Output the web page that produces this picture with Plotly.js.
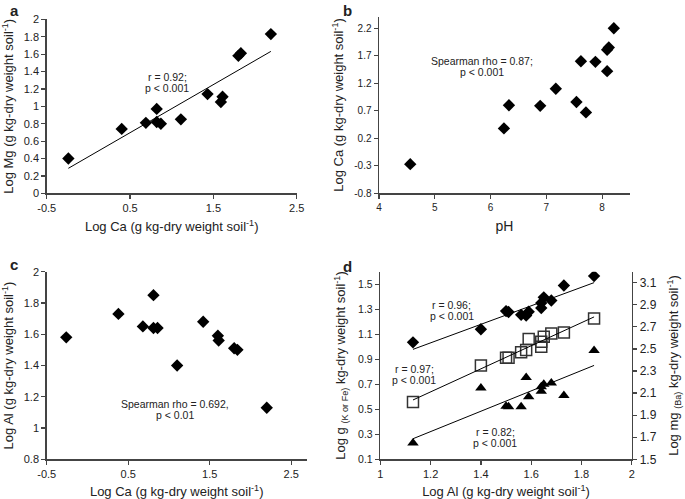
<!DOCTYPE html>
<html><head><meta charset="utf-8">
<script src="https://cdn.plot.ly/plotly-3.0.1.min.js"></script>
<style>html,body{margin:0;padding:0;background:#fff}#chart{width:685px;height:499px}</style>
</head><body><div id="chart"></div>
<script>
// ---- Panel a: Log Ca vs Log Mg ----
const caA = [-0.24, 0.40, 0.69, 0.82, 0.82, 0.87, 1.11, 1.43, 1.59, 1.61, 1.80, 1.83, 2.19];
const mgA = [0.40, 0.74, 0.81, 0.97, 0.82, 0.80, 0.85, 1.14, 1.05, 1.11, 1.58, 1.61, 1.83];
// ---- Panel b: pH vs Log Ca ----
const phB = [4.56, 6.24, 6.33, 6.89, 7.17, 7.54, 7.71, 7.62, 7.88, 8.09, 8.09, 8.12, 8.21];
const caB = [-0.27, 0.38, 0.80, 0.79, 1.10, 0.86, 0.67, 1.60, 1.59, 1.42, 1.81, 1.85, 2.20];
// ---- Panel c: Log Ca vs Log Al ----
const caC = [-0.26, 0.38, 0.68, 0.81, 0.81, 0.86, 1.10, 1.42, 1.60, 1.61, 1.80, 1.84, 2.20];
const alC = [1.58, 1.73, 1.65, 1.85, 1.64, 1.64, 1.40, 1.68, 1.59, 1.56, 1.51, 1.50, 1.13];
// ---- Panel d: Log Al vs Log K, Fe (left axis) and Ba (right axis) ----
const alD = [1.13, 1.40, 1.50, 1.51, 1.56, 1.58, 1.59, 1.64, 1.64, 1.65, 1.68, 1.73, 1.85];
const kD  = [1.035, 1.14, 1.285, 1.278, 1.255, 1.25, 1.28, 1.31, 1.35, 1.395, 1.37, 1.49, 1.565];
const baD = [2.02, 2.35, 2.42, 2.42, 2.47, 2.49, 2.59, 2.52, 2.565, 2.61, 2.64, 2.65, 2.775];
const feD = [0.23, 0.67, 0.525, 0.52, 0.52, 0.755, 0.60, 0.645, 0.68, 0.70, 0.71, 0.61, 0.97];

// tick labels
const caTicks = [-0.5, 0.5, 1.5, 2.5];
const mgTicks = [0, 0.2, 0.4, 0.6, 0.8, 1, 1.2, 1.4, 1.6, 1.8, 2];
const phTicks = [4, 5, 6, 7, 8];
const caBTicks = [-0.8, -0.3, 0.2, 0.7, 1.2, 1.7, 2.2];
const alCTicks = [0.8, 1, 1.2, 1.4, 1.6, 1.8, 2];
const alDTicks = [1, 1.2, 1.4, 1.6, 1.8, 2];
const leftDTicks = [0.1, 0.3, 0.5, 0.7, 0.9, 1.1, 1.3, 1.5];
const rightDTicks = [1.5, 1.7, 1.9, 2.1, 2.3, 2.5, 2.7, 2.9, 3.1];

function fit(x, y) {
  const n = x.length;
  const mx = x.reduce((a, b) => a + b, 0) / n;
  const my = y.reduce((a, b) => a + b, 0) / n;
  let sxy = 0, sxx = 0;
  for (let i = 0; i < n; i++) { sxy += (x[i] - mx) * (y[i] - my); sxx += (x[i] - mx) ** 2; }
  const b = sxy / sxx, a = my - b * mx;
  const x0 = Math.min(...x), x1 = Math.max(...x);
  return { x: [x0, x1], y: [a + b * x0, a + b * x1] };
}
const lbl = v => String(v);

const diamond = { symbol: 'diamond', size: 9.5, color: '#000' };
const lineStyle = { color: '#000', width: 1 };

const fA = fit(caA, mgA), fK = fit(alD, kD), fBa = fit(alD, baD), fFe = fit(alD, feD);

const traces = [
  { x: caA, y: mgA, mode: 'markers', marker: diamond, xaxis: 'x', yaxis: 'y' },
  { x: fA.x, y: fA.y, mode: 'lines', line: lineStyle, xaxis: 'x', yaxis: 'y' },
  { x: phB, y: caB, mode: 'markers', marker: diamond, xaxis: 'x2', yaxis: 'y2' },
  { x: caC, y: alC, mode: 'markers', marker: diamond, xaxis: 'x3', yaxis: 'y3' },
  { x: alD, y: kD, mode: 'markers', marker: diamond, xaxis: 'x4', yaxis: 'y4' },
  { x: fK.x, y: fK.y, mode: 'lines', line: lineStyle, xaxis: 'x4', yaxis: 'y4' },
  { x: alD, y: feD, mode: 'markers', marker: { symbol: 'triangle-up', size: 10, color: '#000' }, xaxis: 'x4', yaxis: 'y4' },
  { x: fFe.x, y: fFe.y, mode: 'lines', line: lineStyle, xaxis: 'x4', yaxis: 'y4' },
  { x: alD, y: baD, mode: 'markers', marker: { symbol: 'square-open', size: 11, color: '#333', line: { width: 1.5 } }, xaxis: 'x4', yaxis: 'y5' },
  { x: fBa.x, y: fBa.y, mode: 'lines', line: lineStyle, xaxis: 'x4', yaxis: 'y5' }
];

const W = 685, H = 499;
const FONT = 'Liberation Sans, Arial, Helvetica, sans-serif';
const tf = s => ({ family: FONT, size: s, color: '#222' });
const titleFont = tf(13);
function ax(extra) {
  return Object.assign({
    showline: true, linecolor: '#444', linewidth: 1.5, mirror: false,
    ticks: 'outside', ticklen: 4, tickcolor: '#444', tickwidth: 1.2,
    showgrid: false, zeroline: false, tickfont: tf(11), fixedrange: true
  }, extra);
}
const dx = (a, b) => [a / W, b / W];
const dy = (top, bot) => [1 - bot / H, 1 - top / H];
const unitTitle = 'kg-dry weight soil<sup>-1</sup>)';

const layout = {
  width: W, height: H, showlegend: false,
  margin: { l: 0, r: 0, t: 0, b: 0 },
  paper_bgcolor: '#fff', plot_bgcolor: 'rgba(0,0,0,0)',
  font: { family: FONT, color: '#222' },
  xaxis: ax({ domain: dx(46.7, 296.7), range: [-0.5, 2.5], anchor: 'y', tickvals: caTicks, ticktext: caTicks.map(lbl),
    title: { text: 'Log Ca (g ' + unitTitle, font: titleFont, standoff: 9 } }),
  yaxis: ax({ domain: dy(19.3, 193.3), range: [0, 2], anchor: 'x', tickvals: mgTicks, ticktext: mgTicks.map(lbl),
    title: { text: 'Log Mg (g ' + unitTitle, font: titleFont, standoff: 10 } }),
  xaxis2: ax({ domain: dx(379, 630), range: [4, 8.5], anchor: 'y2', tickvals: phTicks, ticktext: phTicks.map(lbl),
    tickfont: tf(10), title: { text: 'pH', font: tf(14), standoff: 9 } }),
  yaxis2: ax({ domain: dy(16.7, 193.3), range: [-0.8, 2.41], anchor: 'x2', tickvals: caBTicks, ticktext: caBTicks.map(lbl),
    tickfont: tf(10), title: { text: 'Log Ca (g ' + unitTitle, font: titleFont, standoff: 7 } }),
  xaxis3: ax({ domain: dx(46.7, 306.7), range: [-0.5, 2.69], anchor: 'y3', tickvals: caTicks, ticktext: caTicks.map(lbl),
    title: { text: 'Log Ca (g ' + unitTitle, font: titleFont, standoff: 8 } }),
  yaxis3: ax({ domain: dy(271.7, 459.3), range: [0.8, 2], anchor: 'x3', tickvals: alCTicks, ticktext: alCTicks.map(lbl),
    title: { text: 'Log Al (g ' + unitTitle, font: titleFont, standoff: 9 } }),
  xaxis4: ax({ domain: dx(380.3, 631.8), range: [1, 2], anchor: 'y4', tickvals: alDTicks, ticktext: alDTicks.map(lbl),
    title: { text: 'Log Al (g ' + unitTitle, font: titleFont, standoff: 8 } }),
  yaxis4: ax({ domain: dy(271.7, 459.3), range: [0.1, 1.6], anchor: 'x4', tickvals: leftDTicks, ticktext: leftDTicks.map(lbl),
    tickfont: tf(10.5), title: { text: 'Log g <sub>(K or Fe)</sub> ' + unitTitle, font: titleFont, standoff: 9 } }),
  yaxis5: ax({ domain: dy(271.7, 459.3), range: [1.5, 3.2], anchor: 'x4', overlaying: 'y4', side: 'right',
    tickvals: rightDTicks, ticktext: rightDTicks.map(lbl), tickfont: tf(12),
    title: { text: 'Log mg <sub>(Ba)</sub> ' + unitTitle, font: titleFont, standoff: 13 } }),
  annotations: []
};

function ann(text, px, py, size, bold) {
  layout.annotations.push({
    text: bold ? '<b>' + text + '</b>' : text, xref: 'paper', yref: 'paper',
    x: px / W, y: 1 - py / H, xanchor: 'center', yanchor: 'middle', showarrow: false,
    font: tf(size)
  });
}
ann('a', 14, 10, 15, true);
ann('b', 347, 10, 15, true);
ann('c', 14, 264, 15, true);
ann('d', 348, 266, 15, true);

ann('r = 0.92;', 167, 77, 10.5);
ann('p < 0.001', 167, 88, 10.5);
ann('Spearman rho = 0.87;', 482, 61, 10.5);
ann('p < 0.001', 482, 72, 10.5);
ann('Spearman rho = 0.692,', 175, 404, 10.5);
ann('p < 0.01', 175, 415, 10.5);
ann('r = 0.96;', 452, 305, 10.5);
ann('p < 0.001', 452, 316, 10.5);
ann('r = 0.97;', 414, 369, 10.5);
ann('p < 0.001', 414, 380, 10.5);
ann('r = 0.82;', 495, 432, 10.5);
ann('p < 0.001', 495, 443, 10.5);

Plotly.newPlot('chart', traces, layout, { displayModeBar: false, staticPlot: true });
</script>
</body></html>
